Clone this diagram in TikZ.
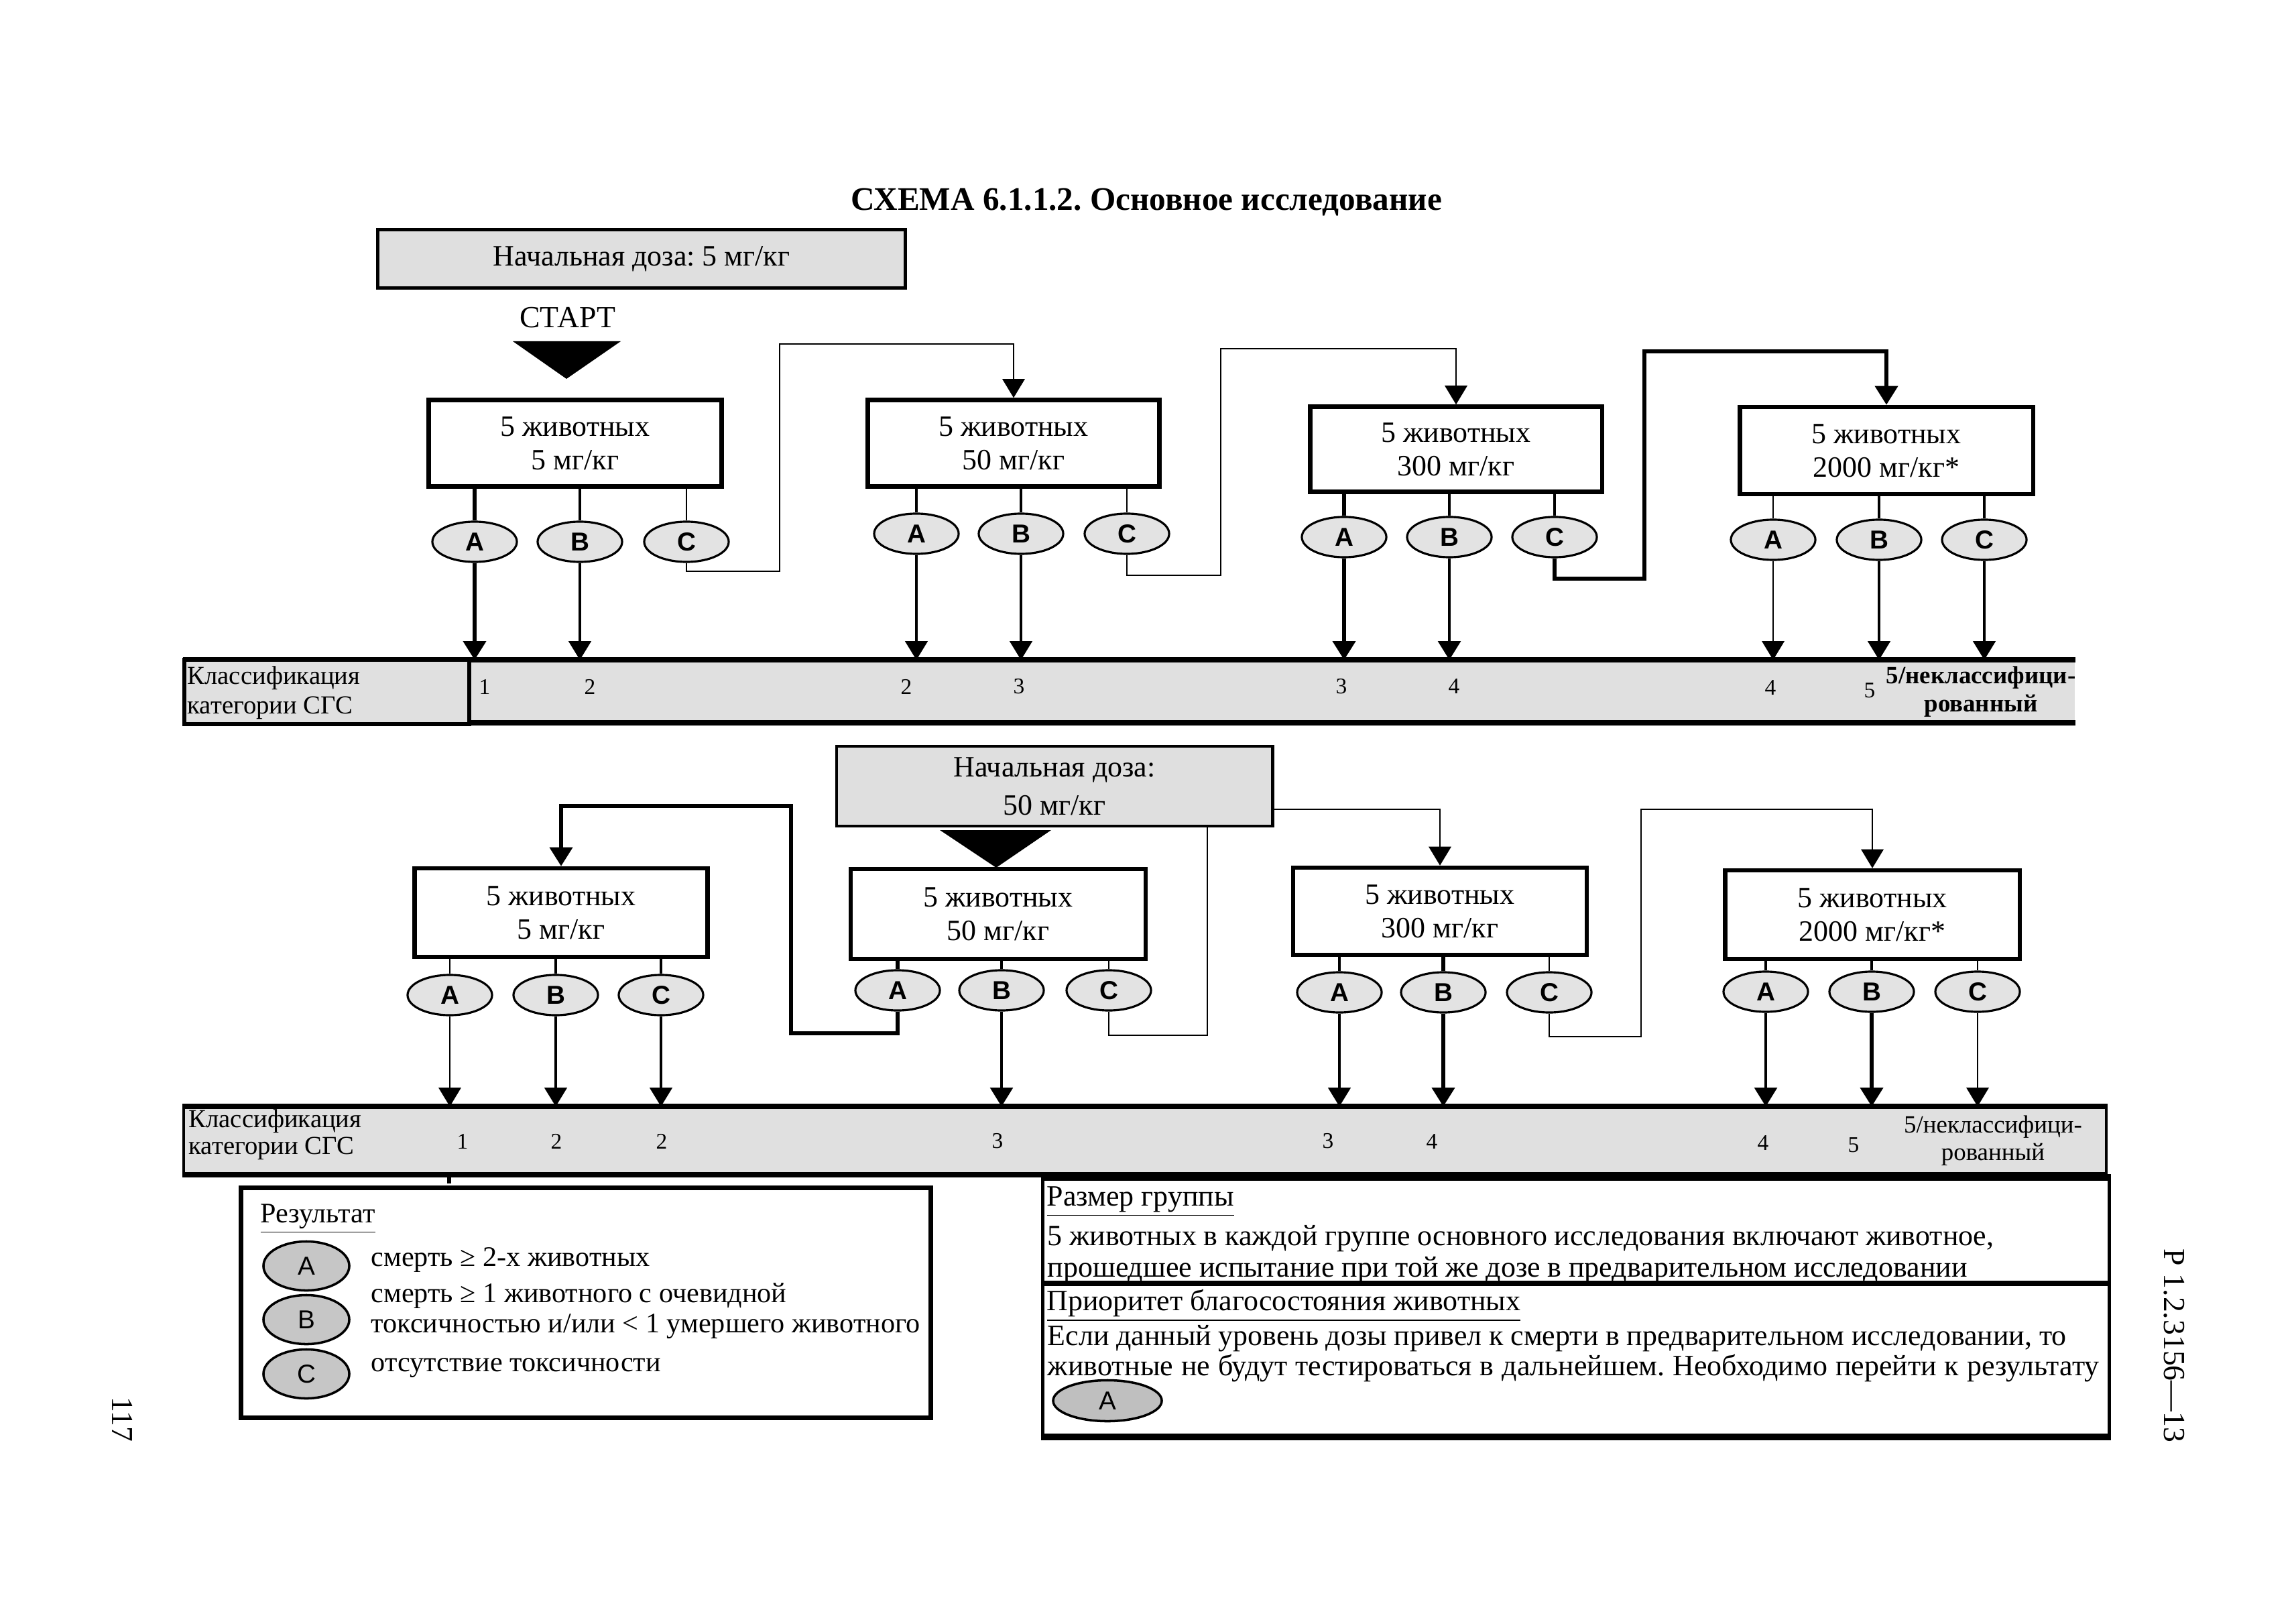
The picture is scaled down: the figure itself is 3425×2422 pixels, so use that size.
\documentclass[tikz,border=0pt]{standalone}
\usepackage{fontspec}
\setmainfont{Liberation Serif}
\newfontfamily\sansf{Liberation Sans}
\usetikzlibrary{shapes.geometric,arrows.meta}
\frenchspacing
\begin{document}
\begin{tikzpicture}[x=0.01cm,y=-0.01cm,
 every node/.style={inner sep=0pt},
 box/.style={draw, line width=1.8pt, fill=white, minimum width=4.37cm, minimum height=1.29cm, align=center, font=\fontsize{12.5}{14.2}\selectfont},
 dose/.style={draw, line width=1.3pt, fill=gray!25, align=center, font=\fontsize{12.5}{16.2}\selectfont},
 res/.style={ellipse, draw, line width=0.9pt, fill=gray!22, minimum width=1.26cm, minimum height=0.6cm, font=\sansf\bfseries\fontsize{11}{11}\selectfont},
 leg/.style={ellipse, draw, line width=1pt, fill=gray!45, minimum width=1.28cm, minimum height=0.73cm, font=\sansf\fontsize{11}{11}\selectfont},
 arr/.style={-{Triangle[length=8pt,width=9.5pt]}},
 w1/.style={line width=0.6pt}, w2/.style={line width=1.0pt}, w3/.style={line width=1.3pt}, w4/.style={line width=1.7pt},
 num/.style={font=\fontsize{9.5}{10}\selectfont},
 lbl/.style={align=left, anchor=west, font=\fontsize{11}{12.5}\selectfont},
 txt/.style={anchor=west, font=\fontsize{12}{12}\selectfont},
 rtxt/.style={anchor=west, font=\fontsize{12.5}{12.5}\selectfont},
 bar/.style={fill=gray!24},
 barline/.style={line width=2.2pt}
]
\useasboundingbox (0,0) rectangle (3425,2422);

% ---------- title and start ----------
\node[font=\bfseries\fontsize{14}{14}\selectfont] (title) at (1710,301) {СХЕМА 6.1.1.2. Основное исследование};
\node[dose, minimum width=7.86cm, minimum height=0.87cm] (start1) at (957,386) {Начальная доза: 5 мг/кг};
\node[font=\fontsize{13}{13}\selectfont] (startlbl) at (847,474) {СТАРТ};
\fill (765,509) -- (926,509) -- (845,565) -- cycle;

% ---------- top row ----------
\node[box] (b1) at (858,661) {5 животных\\5 мг/кг};
\node[box, minimum width=4.35cm] (b2) at (1512,661) {5 животных\\50 мг/кг};
\node[box, minimum width=4.35cm, minimum height=1.27cm] (b3) at (2172,670) {5 животных\\300 мг/кг};
\node[box, minimum height=1.30cm] (b4) at (2814,672) {5 животных\\2000 мг/кг*};

\node[res] (a1) at (708,808) {A};
\node[res] (bb1) at (865,808) {B};
\node[res] (c1) at (1024,808) {C};
\node[res] (a2) at (1367,796) {A};
\node[res] (bb2) at (1523,796) {B};
\node[res] (c2) at (1681,796) {C};
\node[res] (a3) at (2005,801) {A};
\node[res] (bb3) at (2162,801) {B};
\node[res] (c3) at (2319,801) {C};
\node[res] (a4) at (2645,805) {A};
\node[res] (bb4) at (2803,805) {B};
\node[res] (c4) at (2960,805) {C};

\node[bar, minimum width=28.19cm, minimum height=0.92cm] (bar1) at (1684.5,1031) {};
\draw[barline] (bar1.north west) -- (bar1.north east);
\draw[barline] (bar1.south west) -- (bar1.south east);
\node[draw, line width=1.8pt, fill=gray!24, minimum width=4.25cm, minimum height=0.96cm] (lab1) at (487.5,1032) {};
\node[lbl] (lab1t) at (279,1033) {Классификация\\категории СГС};

\node[num] (n11) at (723,1024) {1};
\node[num] (n12) at (880,1024) {2};
\node[num] (n13) at (1352,1024) {2};
\node[num] (n14) at (1520,1024) {3};
\node[num] (n15) at (2001,1024) {3};
\node[num] (n16) at (2169,1024) {4};
\node[num] (n17) at (2641,1026) {4};
\node[num] (n18) at (2789,1030) {5};
\node[align=center, font=\bfseries\fontsize{10.5}{12}\selectfont] (n19) at (2955,1032) {5/неклассифици-\\рованный};

% box -> result lines
\draw[w4] (a1.north |- b1.south) -- (a1.north);
\draw[w2] (bb1.north |- b1.south) -- (bb1.north);
\draw[w1] (c1.north |- b1.south) -- (c1.north);
\draw[w3] (a2.north |- b2.south) -- (a2.north);
\draw[w3] (bb2.north |- b2.south) -- (bb2.north);
\draw[w1] (c2.north |- b2.south) -- (c2.north);
\draw[w4] (a3.north |- b3.south) -- (a3.north);
\draw[w3] (bb3.north |- b3.south) -- (bb3.north);
\draw[w2] (c3.north |- b3.south) -- (c3.north);
\draw[w1] (a4.north |- b4.south) -- (a4.north);
\draw[w2] (bb4.north |- b4.south) -- (bb4.north);
\draw[w2] (c4.north |- b4.south) -- (c4.north);

% result -> classification arrows
\draw[w4,arr] (a1.south) -- (a1.south |- bar1.north);
\draw[w2,arr] (bb1.south) -- (bb1.south |- bar1.north);
\draw[w2,arr] (a2.south) -- (a2.south |- bar1.north);
\draw[w2,arr] (bb2.south) -- (bb2.south |- bar1.north);
\draw[w4,arr] (a3.south) -- (a3.south |- bar1.north);
\draw[w3,arr] (bb3.south) -- (bb3.south |- bar1.north);
\draw[w1,arr] (a4.south) -- (a4.south |- bar1.north);
\draw[w2,arr] (bb4.south) -- (bb4.south |- bar1.north);
\draw[w2,arr] (c4.south) -- (c4.south |- bar1.north);

% C -> next dose
\coordinate (k1) at (1163,852);
\coordinate (k2) at (1163,513);
\draw[w1,arr] (c1.south) |- (k1) -- (k2) -| (b2.north);
\coordinate (k3) at (1821,858);
\coordinate (k4) at (1821,520);
\draw[w1,arr] (c2.south) |- (k3) -- (k4) -| (b3.north);
\coordinate (k5) at (2453,863);
\coordinate (k6) at (2453,524);
\draw[w4,arr] (c3.south) |- (k5) -- (k6) -| (b4.north);

% ---------- bottom row ----------
\node[dose, minimum width=6.5cm, minimum height=1.19cm] (start2) at (1573,1172.5) {Начальная доза:\\50 мг/кг};
\fill (1402,1238) -- (1568,1238) -- (1486,1294) -- cycle;

\node[box, minimum height=1.32cm] (d1) at (837,1361) {5 животных\\5 мг/кг};
\node[box, minimum width=4.40cm, minimum height=1.34cm] (d2) at (1489,1363) {5 животных\\50 мг/кг};
\node[box, minimum width=4.38cm, minimum height=1.30cm] (d3) at (2148,1359) {5 животных\\300 мг/кг};
\node[box, minimum width=4.39cm, minimum height=1.32cm] (d4) at (2793,1364) {5 животных\\2000 мг/кг*};

\node[res] (e1a) at (671,1484) {A};
\node[res] (e1b) at (829,1484) {B};
\node[res] (e1c) at (986,1484) {C};
\node[res] (e2a) at (1339,1477) {A};
\node[res] (e2b) at (1494,1477) {B};
\node[res] (e2c) at (1654,1477) {C};
\node[res] (e3a) at (1998,1480) {A};
\node[res] (e3b) at (2153,1480) {B};
\node[res] (e3c) at (2311,1480) {C};
\node[res] (e4a) at (2634,1479) {A};
\node[res] (e4b) at (2792,1479) {B};
\node[res] (e4c) at (2950,1479) {C};

\node[bar, draw, line width=1pt, minimum width=28.66cm, minimum height=0.98cm] (bar2) at (1708,1701) {};
\draw[barline] (bar2.north west) -- (bar2.north east);
\draw[barline] (bar2.south west) -- (bar2.south east);
\node[lbl, font=\fontsize{11}{11.5}\selectfont] (lab2t) at (281,1692) {Классификация\\категории СГС};
\draw[line width=1.5pt] (670,1750) -- (670,1765);

\node[num] (m11) at (690,1702) {1};
\node[num] (m12) at (830,1702) {2};
\node[num] (m13) at (987,1702) {2};
\node[num] (m14) at (1488,1702) {3};
\node[num] (m15) at (1981,1702) {3};
\node[num] (m16) at (2136,1702) {4};
\node[num] (m17) at (2630,1704) {4};
\node[num] (m18) at (2765,1708) {5};
\node[align=center, font=\fontsize{10.5}{11.5}\selectfont] (m19) at (2973,1701) {5/неклассифици-\\рованный};

% box -> result lines
\draw[w1] (e1a.north |- d1.south) -- (e1a.north);
\draw[w2] (e1b.north |- d1.south) -- (e1b.north);
\draw[w2] (e1c.north |- d1.south) -- (e1c.north);
\draw[w4] (e2a.north |- d2.south) -- (e2a.north);
\draw[w3] (e2b.north |- d2.south) -- (e2b.north);
\draw[w1] (e2c.north |- d2.south) -- (e2c.north);
\draw[w2] (e3a.north |- d3.south) -- (e3a.north);
\draw[w4] (e3b.north |- d3.south) -- (e3b.north);
\draw[w1] (e3c.north |- d3.south) -- (e3c.north);
\draw[w3] (e4a.north |- d4.south) -- (e4a.north);
\draw[w3] (e4b.north |- d4.south) -- (e4b.north);
\draw[w1] (e4c.north |- d4.south) -- (e4c.north);

% result -> classification arrows
\draw[w1,arr] (e1a.south) -- (e1a.south |- bar2.north);
\draw[w2,arr] (e1b.south) -- (e1b.south |- bar2.north);
\draw[w2,arr] (e1c.south) -- (e1c.south |- bar2.north);
\draw[w3,arr] (e2b.south) -- (e2b.south |- bar2.north);
\draw[w2,arr] (e3a.south) -- (e3a.south |- bar2.north);
\draw[w4,arr] (e3b.south) -- (e3b.south |- bar2.north);
\draw[w3,arr] (e4a.south) -- (e4a.south |- bar2.north);
\draw[w4,arr] (e4b.south) -- (e4b.south |- bar2.north);
\draw[w1,arr] (e4c.south) -- (e4c.south |- bar2.north);

% connectors
\coordinate (p1) at (1180,1541);
\coordinate (p2) at (1180,1202);
\draw[w4,arr] (e2a.south) |- (p1) -- (p2) -| (d1.north);
\coordinate (p3) at (1801,1544);
\draw[w1] (e2c.south) |- (p3) -- (p3 |- start2.south);
\coordinate (s2) at (1898,1207);
\draw[w1,arr] (s2) -| (d3.north);
\coordinate (p4) at (2448,1546);
\coordinate (p5) at (2448,1207);
\draw[w1,arr] (e3c.south) |- (p4) -- (p5) -| (d4.north);

% ---------- legend left ----------
\node[draw, line width=2pt, minimum width=10.28cm, minimum height=3.42cm] (legL) at (874,1943) {};
\node[txt] (legLt) at (388,1818) {\underline{Результат}};
\node[leg] (lA) at (457,1888) {A};
\node[leg] (lB) at (457,1968) {B};
\node[leg] (lC) at (457,2049) {C};
\node[txt] (tA) at (553,1879) {смерть ≥ 2-х животных};
\node[txt] (tB1) at (553,1933) {смерть ≥ 1 животного с очевидной};
\node[txt] (tB2) at (553,1978) {токсичностью и/или < 1 умершего животного};
\node[txt] (tC) at (553,2040) {отсутствие токсичности};

% ---------- legend right ----------
\node[draw, line width=1.5pt, minimum width=15.9cm, minimum height=3.83cm] (legR) at (2351,1949.5) {};
\draw[line width=2.4pt] (legR.north west) -- (legR.north east);
\draw[line width=2.4pt] (legR.south west) -- (legR.south east);
\draw[line width=2.2pt] (1556,1914) -- (3146,1914);
\node[rtxt] (r1) at (1561,1792) {\underline{Размер группы}};
\node[rtxt] (r2) at (1562,1847) {\makebox[14.11cm][s]{5 животных в каждой группе основного исследования включают животное,}};
\node[rtxt] (r3) at (1562,1894) {\makebox[13.71cm][s]{прошедшее испытание при той же дозе в предварительном исследовании}};
\node[rtxt] (r4) at (1561,1947) {\underline{Приоритет благосостояния животных}};
\node[rtxt] (r5) at (1562,1996) {\makebox[15.19cm][s]{Если данный уровень дозы привел к смерти в предварительном исследовании, то}};
\node[rtxt] (r6) at (1562,2040) {\makebox[15.68cm][s]{животные не будут тестироваться в дальнейшем. Необходимо перейти к результату}};
\node[leg, minimum width=1.62cm, minimum height=0.61cm, fill=gray!50] (rA) at (1652,2089) {A};

% ---------- margins ----------
\node[rotate=-90, font=\fontsize{13}{13}\selectfont] (code) at (3243,2007) {Р 1.2.3156—13};
\node[rotate=-90, font=\fontsize{13}{13}\selectfont] (page) at (183,2117) {117};
\end{tikzpicture}
\end{document}
